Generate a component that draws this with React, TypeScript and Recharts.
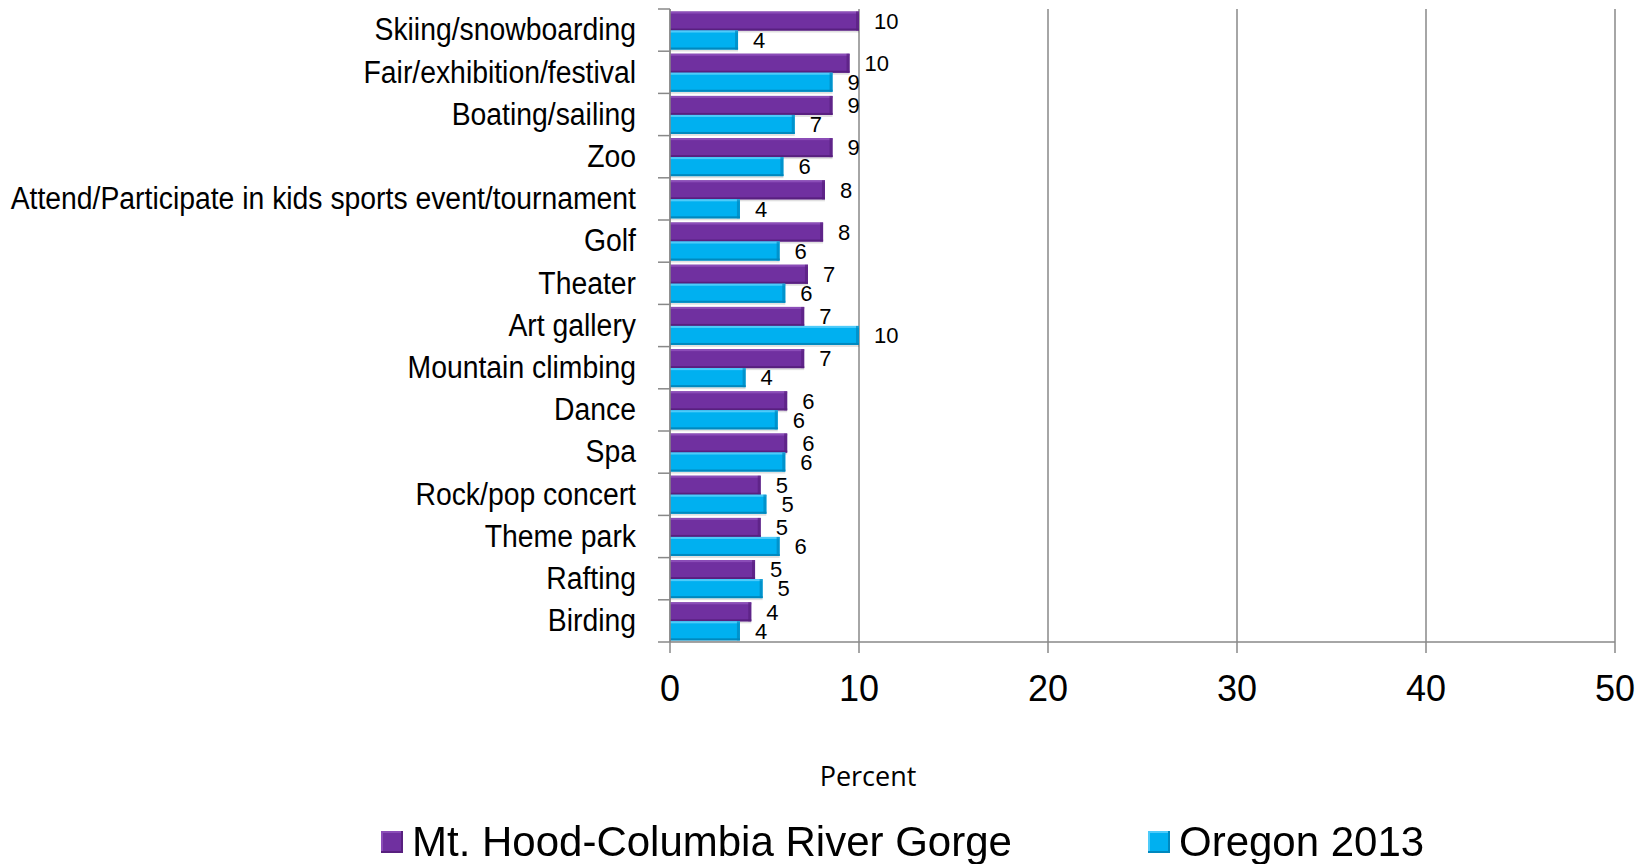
import { Bar, BarChart, CartesianGrid, LabelList, XAxis, YAxis } from 'recharts';

const CATEGORIES = [
  'Skiing/snowboarding', 'Fair/exhibition/festival', 'Boating/sailing', 'Zoo',
  'Attend/Participate in kids sports event/tournament', 'Golf', 'Theater', 'Art gallery',
  'Mountain climbing', 'Dance', 'Spa', 'Rock/pop concert', 'Theme park', 'Rafting', 'Birding',
];
const HOOD = [10.0, 9.5, 8.6, 8.6, 8.2, 8.1, 7.3, 7.1, 7.1, 6.2, 6.2, 4.8, 4.8, 4.5, 4.3];
const OREGON = [3.6, 8.6, 6.6, 6.0, 3.7, 5.8, 6.1, 10.0, 4.0, 5.7, 6.1, 5.1, 5.8, 4.9, 3.7];
const X_TICKS = [0, 10, 20, 30, 40, 50];
const SERIES = [
  { key: 'hood', name: 'Mt. Hood-Columbia River Gorge', color: '#7030A0', light: '#8B4DB8', dark: '#58207F' },
  { key: 'oregon', name: 'Oregon 2013', color: '#00B0F0', light: '#4DCBFA', dark: '#0088BE' },
];

const data = CATEGORIES.map((c, i) => ({ cat: c, hood: HOOD[i], oregon: OREGON[i] }));

const W = 1649;
const H = 864;
const AXIS_X = 670;
const TOP = 9;
const PLOT_BOTTOM = 642;
const BAND = (PLOT_BOTTOM - TOP) / CATEGORIES.length;
const GRAY = '#888888';
const ARIAL = '"Liberation Sans", Arial, sans-serif';
const LEGEND_LEFT = [381, 1148];

function BevelBar(props: any) {
  const { x, y, width, height, light, dark, fill } = props;
  if (!width || width <= 0) return null;
  const e = Math.min(3, width / 3);
  return (
    <g>
      <rect x={x} y={y + 2} width={width} height={height} fill="rgba(0,0,0,0.12)" />
      <rect x={x} y={y} width={width} height={height} fill={fill} />
      <rect x={x} y={y} width={width} height={2} fill={light} />
      <rect x={x} y={y + height - 2} width={width} height={2} fill={dark} />
      <rect x={x + width - e} y={y} width={e} height={height} fill={dark} opacity={0.7} />
    </g>
  );
}

// category label, with the tick mark drawn on the band boundary (excel style)
function CatTick(props: any) {
  const { y, payload, index } = props;
  return (
    <g>
      <line x1={AXIS_X - 12} x2={AXIS_X} y1={y - BAND / 2} y2={y - BAND / 2} stroke={GRAY} strokeWidth={1.5} />
      {index === CATEGORIES.length - 1 && (
        <line x1={AXIS_X - 12} x2={AXIS_X} y1={y + BAND / 2} y2={y + BAND / 2} stroke={GRAY} strokeWidth={1.5} />
      )}
      <text
        transform={`translate(${AXIS_X - 34},${y - 1}) scale(0.9,1)`}
        dy="0.36em"
        textAnchor="end"
        fontFamily={ARIAL}
        fontSize={31.5}
        fill="#000"
      >
        {payload.value}
      </text>
    </g>
  );
}

export default function App() {
  return (
    <div style={{ position: 'fixed', left: 0, top: 0, width: W, height: H, background: '#fff' }}>
      <BarChart
        width={W}
        height={H}
        data={data}
        layout="vertical"
        margin={{ top: TOP, right: W - 1615, bottom: H - PLOT_BOTTOM - 70, left: 0 }}
        barCategoryGap="6%"
        barGap={0}
      >
        <CartesianGrid horizontal={false} stroke={GRAY} strokeWidth={1.5} />
        <XAxis
          type="number"
          domain={[0, 50]}
          ticks={X_TICKS}
          height={70}
          stroke={GRAY}
          strokeWidth={1.5}
          tickSize={11}
          tickMargin={22}
          tick={{ fill: '#000', fontSize: 36, fontFamily: ARIAL }}
        />
        <YAxis
          type="category"
          dataKey="cat"
          width={AXIS_X}
          interval={0}
          stroke={GRAY}
          strokeWidth={1.5}
          tickLine={false}
          tick={<CatTick />}
        />
        {SERIES.map((s) => (
          <Bar
            key={s.key}
            dataKey={s.key}
            name={s.name}
            fill={s.color}
            isAnimationActive={false}
            shape={(p: any) => <BevelBar {...p} light={s.light} dark={s.dark} />}
          >
            <LabelList
              dataKey={s.key}
              position="right"
              offset={15}
              formatter={(v: any) => Math.round(Number(v))}
              style={{ fill: '#000', fontSize: 22, fontFamily: ARIAL }}
            />
          </Bar>
        ))}
      </BarChart>
      <div
        style={{
          position: 'absolute', left: 868, top: 775, transform: 'translate(-50%, -50%)',
          fontFamily: '"Open Sans", "Noto Sans", sans-serif', fontSize: 27, color: '#000', whiteSpace: 'nowrap',
        }}
      >
        Percent
      </div>
      {SERIES.map((s, i) => (
        <div
          key={s.key}
          style={{
            position: 'absolute', left: LEGEND_LEFT[i], top: 842, transform: 'translateY(-50%)',
            display: 'flex', alignItems: 'center', fontFamily: ARIAL, fontSize: 42, color: '#000', whiteSpace: 'nowrap',
          }}
        >
          <span style={{ display: 'inline-block', width: 22, height: 22, background: s.color, boxShadow: `inset -2px -2px 0 ${s.dark}, inset 2px 2px 0 ${s.light}`, marginRight: 9 }} />
          <span>{s.name}</span>
        </div>
      ))}
    </div>
  );
}
